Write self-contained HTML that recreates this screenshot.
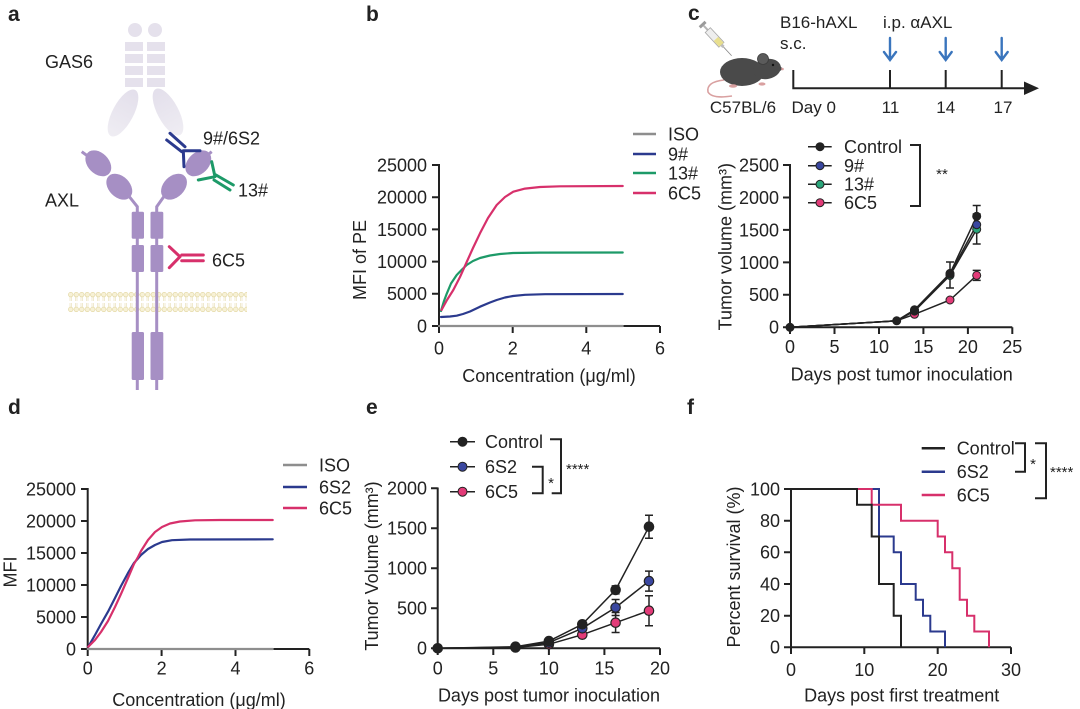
<!DOCTYPE html>
<html><head><meta charset="utf-8"><style>
html,body{margin:0;padding:0;background:#fff;}
svg{display:block;}
text{font-family:"Liberation Sans",Arial,sans-serif;fill:#222;}
.t{font-size:18px;}
.s{font-size:17px;}
.L{font-size:21px;font-weight:bold;}
</style></head><body>
<svg width="1080" height="709" viewBox="0 0 1080 709" xmlns="http://www.w3.org/2000/svg">
<defs>
<pattern id="mem" x="68" y="292" width="5.5" height="20" patternUnits="userSpaceOnUse">
<g fill="#f7f1d6" stroke="#e0d49c" stroke-width="0.6">
<circle cx="2.75" cy="2.6" r="2.3"/><circle cx="2.75" cy="17.4" r="2.3"/>
</g>
<g stroke="#e6dcaf" stroke-width="0.6" fill="none">
<path d="M2,5 V9 M3.5,5 V9 M2,11 V15 M3.5,11 V15"/>
</g>
</pattern>
<linearGradient id="gfade" x1="0" y1="0" x2="0" y2="1">
<stop offset="0" stop-color="#e3dfeb"/><stop offset="1" stop-color="#efedf3"/>
</linearGradient>
</defs>
<rect width="1080" height="709" fill="#fff"/>

<!-- Panel labels -->
<text class="L" x="8" y="21">a</text>
<text class="L" x="366" y="21">b</text>
<text class="L" x="688" y="20">c</text>
<text class="L" x="8" y="414">d</text>
<text class="L" x="366" y="414">e</text>
<text class="L" x="687" y="414">f</text>

<!-- ============ Panel a ============ -->
<g fill="#e5e1ec">
<circle cx="135" cy="30" r="7"/><circle cx="155" cy="30" r="7"/>
<rect x="125" y="42" width="18" height="9"/><rect x="147" y="42" width="18" height="9"/>
<rect x="125" y="54" width="18" height="9"/><rect x="147" y="54" width="18" height="9"/>
<rect x="125" y="66" width="18" height="9"/><rect x="147" y="66" width="18" height="9"/>
<rect x="125" y="78" width="18" height="9"/><rect x="147" y="78" width="18" height="9"/>
<ellipse cx="123" cy="113" rx="10.5" ry="26" transform="rotate(28 123 113)" fill="url(#gfade)"/>
<ellipse cx="168" cy="112" rx="10.5" ry="26" transform="rotate(-28 168 112)" fill="url(#gfade)"/>
</g>
<text class="t" x="45" y="68">GAS6</text>

<!-- membrane -->
<rect x="68" y="292" width="179" height="20" fill="url(#mem)"/>

<g fill="#a68fc4" stroke="#a68fc4">
<path d="M81.7,151.7 L89,157 M211.7,151.7 L205,157" stroke-width="3" fill="none"/>
<ellipse cx="98.3" cy="163.3" rx="15" ry="10.5" transform="rotate(45 98.3 163.3)" stroke="none"/>
<ellipse cx="119.3" cy="186.7" rx="15" ry="10.5" transform="rotate(45 119.3 186.7)" stroke="none"/>
<ellipse cx="198.3" cy="163.3" rx="15" ry="10.5" transform="rotate(-45 198.3 163.3)" stroke="none"/>
<ellipse cx="174" cy="186.7" rx="15" ry="10.5" transform="rotate(-45 174 186.7)" stroke="none"/>
<path d="M128,195 L137.3,206.7 V390 M165,195 L156.7,206.7 V390" stroke-width="3" fill="none"/>
<rect x="131.7" y="211.7" width="12.3" height="27" rx="1.5" stroke="none"/>
<rect x="150.5" y="211.7" width="12.8" height="27" rx="1.5" stroke="none"/>
<rect x="131.7" y="245" width="12.3" height="27" rx="1.5" stroke="none"/>
<rect x="150.5" y="245" width="12.8" height="27" rx="1.5" stroke="none"/>
<rect x="131.7" y="332" width="12.3" height="48" rx="1.5" stroke="none"/>
<rect x="150.5" y="332" width="12.8" height="48" rx="1.5" stroke="none"/>
</g>
<text class="t" x="45" y="206.5">AXL</text>

<!-- antibodies -->
<g fill="none" stroke-width="3" stroke-linecap="round">
<path d="M170,133.3 L185,146.7 M166.7,140 L181.7,151.7 M183.3,150.7 L200,150.7 M183.3,150.7 L184,166.7" stroke="#2b3a8e"/>
<path d="M215,176.7 L211.7,161.7 M215,176.7 L198.3,180 M216,175 L233.3,185 M214,180 L230,190" stroke="#1d9a68"/>
<path d="M180,256.7 L169.3,246.7 M180,256.7 L169.3,267.7 M181.7,255 H203.3 M181.7,260.7 H203.3" stroke="#d7306b"/>
</g>
<text class="t" x="203" y="144.5">9#/6S2</text>
<text class="t" x="238" y="196.5">13#</text>
<text class="t" x="212" y="266.5">6C5</text>

<!-- ============ Panel b ============ -->
<g stroke="#222" stroke-width="2" fill="none">
<path d="M439,164 V326 H660"/>
<path d="M432,165H439 M432,197.2H439 M432,229.4H439 M432,261.6H439 M432,293.8H439 M432,326H439"/>
<path d="M439,326V333 M512.7,326V333 M586.3,326V333 M660,326V333"/>
</g>
<g class="t" text-anchor="end">
<text x="427" y="171.4">25000</text><text x="427" y="203.6">20000</text><text x="427" y="235.8">15000</text>
<text x="427" y="268">10000</text><text x="427" y="300.2">5000</text><text x="427" y="332.4">0</text>
</g>
<g class="t" text-anchor="middle">
<text x="439" y="354.5">0</text><text x="512.7" y="354.5">2</text><text x="586.3" y="354.5">4</text><text x="660" y="354.5">6</text>
<text x="549" y="382">Concentration (μg/ml)</text>
</g>
<text class="t" text-anchor="middle" transform="translate(366,260) rotate(-90)">MFI of PE</text>
<g fill="none" stroke-width="2.2" stroke-linejoin="round" stroke-linecap="round">
<path d="M439,326 H622.7" stroke="#8e8e8e"/>
<polyline stroke="#2b3a8e" points="441,317 450,316.5 456.7,315.7 463,314 470,311.5 480,306.7 490,302.5 496.7,300 505,297.5 513,296 525,294.8 545,294.2 622.7,294"/>
<polyline stroke="#1d9a68" points="441,311 444,301 446.7,293.8 451,283.5 456.7,275 462,269.5 466.7,265 473,261 480,258 490,255.5 500,254 513,253 540,252.6 622.7,252.5"/>
<polyline stroke="#d7306b" points="441.5,310 447,300 453.3,290 460,277 466.7,262 473,248 480,233.3 488,218 496.7,205 505,197 513.3,191.7 525,188.6 540,187 560,186.3 622.7,186"/>
</g>
<g stroke-width="2.5">
<path d="M633,134H656" stroke="#8e8e8e"/><path d="M633,154H656" stroke="#2b3a8e"/>
<path d="M633,173H656" stroke="#1d9a68"/><path d="M633,193H656" stroke="#d7306b"/>
</g>
<g class="t">
<text x="668" y="140.4">ISO</text><text x="668" y="160.4">9#</text><text x="668" y="179.4">13#</text><text x="668" y="199.4">6C5</text>
</g>

<!-- ============ Panel c (timeline) ============ -->
<g transform="translate(703,25) rotate(47)">
<rect x="-2" y="-4" width="3" height="8" fill="#9a9a9a"/>
<rect x="1" y="-1" width="6" height="2" fill="#b5b5b5"/>
<rect x="7" y="-3.5" width="20" height="7" fill="#eeeeee" stroke="#a8a8a8" stroke-width="0.8"/>
<rect x="19" y="-3" width="8" height="6" fill="#e8df8e"/>
<rect x="27" y="-1.5" width="3" height="3" fill="#bdbdbd"/>
<path d="M30,0 H42" stroke="#8a8a8a" stroke-width="0.8"/>
</g>
<path d="M724,80 Q706,82 708,92 Q712,99 732,96" fill="none" stroke="#d9a0a0" stroke-width="1.6"/>
<ellipse cx="742" cy="72" rx="22" ry="14" fill="#4a4a4a"/>
<ellipse cx="767" cy="69" rx="14" ry="10" transform="rotate(-12 767 69)" fill="#4a4a4a"/>
<path d="M778,64 L783,69 L777,73 Z" fill="#4a4a4a"/>
<circle cx="763" cy="59" r="5.5" fill="#5b5b5b" stroke="#3c3c3c" stroke-width="0.8"/>
<circle cx="773" cy="65" r="1.2" fill="#111"/>
<circle cx="782.5" cy="69" r="1.3" fill="#d9a0a0"/>
<ellipse cx="733" cy="86" rx="4" ry="1.8" fill="#d9a0a0"/>
<ellipse cx="762" cy="84" rx="3.5" ry="1.6" fill="#d9a0a0"/>
<text class="s" x="743" y="113" text-anchor="middle">C57BL/6</text>

<g stroke="#222" stroke-width="2" fill="none">
<path d="M793.3,70 V88.3 H1027 M890,70 V88.3 M945.7,70 V88.3 M1001.7,70 V88.3"/>
</g>
<polygon points="1024,81.5 1039,88.3 1024,95" fill="#222"/>
<g stroke="#3a75bd" stroke-width="2.4" fill="none" stroke-linecap="round">
<path d="M890,38 V60 M884,52 L890,60 L896,52"/>
<path d="M945.7,38 V60 M939.7,52 L945.7,60 L951.7,52"/>
<path d="M1001.7,38 V60 M995.7,52 L1001.7,60 L1007.7,52"/>
</g>
<text class="s" x="780" y="28">B16-hAXL</text>
<text class="s" x="780" y="49">s.c.</text>
<text class="s" x="883" y="28">i.p. αAXL</text>
<text class="s" x="791.5" y="113">Day 0</text>
<text class="s" x="890.5" y="113" text-anchor="middle">11</text>
<text class="s" x="945.7" y="113" text-anchor="middle">14</text>
<text class="s" x="1003" y="113" text-anchor="middle">17</text>

<!-- ============ Panel c chart ============ -->
<g stroke="#222" stroke-width="2" fill="none">
<path d="M790,164 V327.3 H1012.3"/>
<path d="M783,165H790 M783,197.5H790 M783,229.9H790 M783,262.4H790 M783,294.8H790 M783,327.3H790"/>
<path d="M790,327.3V334 M834.5,327.3V334 M879,327.3V334 M923.4,327.3V334 M967.9,327.3V334 M1012.3,327.3V334"/>
</g>
<g class="t" text-anchor="end">
<text x="779" y="171.4">2500</text><text x="779" y="203.9">2000</text><text x="779" y="236.3">1500</text>
<text x="779" y="268.8">1000</text><text x="779" y="301.2">500</text><text x="779" y="333.7">0</text>
</g>
<g class="t" text-anchor="middle">
<text x="790" y="353">0</text><text x="834.5" y="353">5</text><text x="879" y="353">10</text>
<text x="923.4" y="353">15</text><text x="967.9" y="353">20</text><text x="1012.3" y="353">25</text>
<text x="901.7" y="380.5">Days post tumor inoculation</text>
</g>
<text class="t" text-anchor="middle" transform="translate(731.5,246.7) rotate(-90)">Tumor volume (mm³)</text>
<g fill="none" stroke="#222" stroke-width="1.5">
<polyline points="790,327.3 896.7,320.8 914.5,314.3 950,300 976.7,275.4"/>
<polyline points="790,327.3 896.7,320.8 914.5,311.1 950,275.4 976.7,229.3"/>
<polyline points="790,327.3 896.7,320.8 914.5,310.4 950,274.1 976.7,224.7"/>
<polyline points="790,327.3 896.7,320.8 914.5,309.8 950,273.4 976.7,216.3"/>
<path d="M976.7,270.4V280.4 M972.7,270.4H980.7 M972.7,280.4H980.7"/>
<path d="M976.7,214V244 M972.7,214H980.7 M972.7,244H980.7"/>
<path d="M950,262V288 M946,262H954 M946,288H954"/>
<path d="M976.7,205.5V227 M972.7,205.5H980.7"/>
</g>
<g stroke="#222" stroke-width="1">
<circle cx="790" cy="327.3" r="4" fill="#222"/>
<circle cx="896.7" cy="320.8" r="4" fill="#222"/>
<circle cx="914.5" cy="314.3" r="4" fill="#e23b78"/>
<circle cx="950" cy="300" r="4" fill="#e23b78"/>
<circle cx="976.7" cy="275.4" r="4" fill="#e23b78"/>
<circle cx="914.5" cy="311.1" r="4" fill="#2aa57a"/>
<circle cx="950" cy="275.4" r="4" fill="#2aa57a"/>
<circle cx="976.7" cy="229.3" r="4" fill="#2aa57a"/>
<circle cx="914.5" cy="310.4" r="4" fill="#3a47a0"/>
<circle cx="950" cy="274.1" r="4" fill="#3a47a0"/>
<circle cx="976.7" cy="224.7" r="4" fill="#3a47a0"/>
<circle cx="914.5" cy="309.8" r="4" fill="#222"/>
<circle cx="950" cy="273.4" r="4" fill="#222"/>
<circle cx="976.7" cy="216.3" r="4" fill="#222"/>
</g>
<g stroke="#222" stroke-width="1.5">
<path d="M808,146.7H831.7 M808,165.7H831.7 M808,184.3H831.7 M808,202.7H831.7"/>
<circle cx="820" cy="146.7" r="4" fill="#222" stroke-width="1"/>
<circle cx="820" cy="165.7" r="4" fill="#3a47a0" stroke-width="1"/>
<circle cx="820" cy="184.3" r="4" fill="#2aa57a" stroke-width="1"/>
<circle cx="820" cy="202.7" r="4" fill="#e23b78" stroke-width="1"/>
</g>
<g class="t">
<text x="844" y="153.1">Control</text><text x="844" y="172.1">9#</text><text x="844" y="190.7">13#</text><text x="844" y="209.1">6C5</text>
</g>
<path d="M910,145 H920 V206 H910" fill="none" stroke="#222" stroke-width="2"/>
<text x="942" y="179" font-size="15" text-anchor="middle">**</text>

<!-- ============ Panel d ============ -->
<g stroke="#222" stroke-width="2" fill="none">
<path d="M87.7,488 V649 H309.3"/>
<path d="M81,489H87.7 M81,521H87.7 M81,553H87.7 M81,585H87.7 M81,617H87.7 M81,649H87.7"/>
<path d="M87.7,649V656 M161.6,649V656 M235.5,649V656 M309.3,649V656"/>
</g>
<g class="t" text-anchor="end">
<text x="76" y="495.4">25000</text><text x="76" y="527.4">20000</text><text x="76" y="559.4">15000</text>
<text x="76" y="591.4">10000</text><text x="76" y="623.4">5000</text><text x="76" y="655.4">0</text>
</g>
<g class="t" text-anchor="middle">
<text x="87.7" y="674.5">0</text><text x="161.6" y="674.5">2</text><text x="235.5" y="674.5">4</text><text x="309.3" y="674.5">6</text>
<text x="199" y="706">Concentration (μg/ml)</text>
</g>
<text class="t" text-anchor="middle" transform="translate(16.5,572) rotate(-90)">MFI</text>
<g fill="none" stroke-width="2.2" stroke-linejoin="round" stroke-linecap="round">
<path d="M87.7,649 H272.7" stroke="#8e8e8e"/>
<polyline stroke="#2b3a8e" points="88.3,646.7 95,635 101,624 108,611.7 115,598 121,586 128,573 134,563 141,555 148,549 155,545 162,542 172,540.2 190,539.5 272.7,539.3"/>
<polyline stroke="#d7306b" points="88.3,646.7 95,640 101,632 108,621 115,607 121,594 128,578 134,564 138,557 141,551 148,540 155,532 162,527 170,523.5 180,521.5 195,520.3 220,520 272.7,520"/>
</g>
<g stroke-width="2.5">
<path d="M283,465H307" stroke="#8e8e8e"/><path d="M283,487H307" stroke="#2b3a8e"/><path d="M283,508H307" stroke="#d7306b"/>
</g>
<g class="t">
<text x="319" y="471.4">ISO</text><text x="319" y="493.4">6S2</text><text x="319" y="514.4">6C5</text>
</g>

<!-- ============ Panel e ============ -->
<g stroke="#222" stroke-width="2" fill="none">
<path d="M437.7,487.5 V648.3 H660"/>
<path d="M431,488.3H437.7 M431,528.3H437.7 M431,568.3H437.7 M431,608.3H437.7 M431,648.3H437.7"/>
<path d="M437.7,648.3V655 M493.3,648.3V655 M548.9,648.3V655 M604.4,648.3V655 M660,648.3V655"/>
</g>
<g class="t" text-anchor="end">
<text x="427" y="494.7">2000</text><text x="427" y="534.7">1500</text><text x="427" y="574.7">1000</text>
<text x="427" y="614.7">500</text><text x="427" y="654.7">0</text>
</g>
<g class="t" text-anchor="middle">
<text x="437.7" y="674.5">0</text><text x="493.3" y="674.5">5</text><text x="548.9" y="674.5">10</text>
<text x="604.4" y="674.5">15</text><text x="660" y="674.5">20</text>
<text x="549" y="701.5">Days post tumor inoculation</text>
</g>
<text class="t" text-anchor="middle" transform="translate(378,566) rotate(-90)">Tumor Volume (mm³)</text>
<g fill="none" stroke="#222" stroke-width="1.5">
<polyline points="437.7,648.3 515.5,647.5 548.9,644.3 582.3,634.7 615.6,622.7 649,610.7"/>
<polyline points="437.7,648.3 515.5,647.1 548.9,642.7 582.3,628.3 615.6,607.5 649,581.1"/>
<polyline points="437.7,648.3 515.5,646.7 548.9,641.1 582.3,624.3 615.6,589.9 649,526.7"/>
<path d="M649,595.7V625.7 M645,595.7H653 M645,625.7H653"/>
<path d="M615.6,612.5V632.5 M611.6,612.5H619.6 M611.6,632.5H619.6"/>
<path d="M649,571.1V591.1 M645,571.1H653 M645,591.1H653"/>
<path d="M615.6,599.5V615.5 M611.6,599.5H619.6 M611.6,615.5H619.6"/>
<path d="M649,515.2V538.2 M645,515.2H653 M645,538.2H653"/>
<path d="M615.6,585.9V593.9 M611.6,585.9H619.6 M611.6,593.9H619.6"/>
</g>
<g stroke="#222" stroke-width="1.2">
<circle cx="437.7" cy="648.3" r="4.7" fill="#222"/>
<circle cx="515.5" cy="647.5" r="4.7" fill="#e23b78"/>
<circle cx="548.9" cy="644.3" r="4.7" fill="#e23b78"/>
<circle cx="582.3" cy="634.7" r="4.7" fill="#e23b78"/>
<circle cx="615.6" cy="622.7" r="4.7" fill="#e23b78"/>
<circle cx="649" cy="610.7" r="4.7" fill="#e23b78"/>
<circle cx="515.5" cy="647.1" r="4.7" fill="#3a47a0"/>
<circle cx="548.9" cy="642.7" r="4.7" fill="#3a47a0"/>
<circle cx="582.3" cy="628.3" r="4.7" fill="#3a47a0"/>
<circle cx="615.6" cy="607.5" r="4.7" fill="#3a47a0"/>
<circle cx="649" cy="581.1" r="4.7" fill="#3a47a0"/>
<circle cx="515.5" cy="646.7" r="4.7" fill="#222"/>
<circle cx="548.9" cy="641.1" r="4.7" fill="#222"/>
<circle cx="582.3" cy="624.3" r="4.7" fill="#222"/>
<circle cx="615.6" cy="589.9" r="4.7" fill="#222"/>
<circle cx="649" cy="526.7" r="4.7" fill="#222"/>
</g>
<g stroke="#222" stroke-width="1.5">
<path d="M450,441.7H475 M450,466.7H475 M450,491.7H475"/>
<circle cx="462.5" cy="441.7" r="4.5" fill="#222" stroke-width="1"/>
<circle cx="462.5" cy="466.7" r="4.5" fill="#3a47a0" stroke-width="1"/>
<circle cx="462.5" cy="491.7" r="4.5" fill="#e23b78" stroke-width="1"/>
</g>
<g class="t">
<text x="485" y="448.1">Control</text><text x="485" y="473.1">6S2</text><text x="485" y="498.1">6C5</text>
</g>
<g fill="none" stroke="#222" stroke-width="2">
<path d="M532,466.7 H542.7 V493.3 H532"/>
<path d="M550,439.3 H561 V493.3 H551.7"/>
</g>
<text x="551" y="488" font-size="15" text-anchor="middle">*</text>
<text x="566" y="474" font-size="15">****</text>

<!-- ============ Panel f ============ -->
<g stroke="#222" stroke-width="2" fill="none">
<path d="M791,488 V647.3 H1011"/>
<path d="M784,489H791 M784,520.7H791 M784,552.3H791 M784,584H791 M784,615.7H791 M784,647.3H791"/>
<path d="M791,647.3V654 M864.3,647.3V654 M937.7,647.3V654 M1011,647.3V654"/>
</g>
<g class="t" text-anchor="end">
<text x="780" y="495.4">100</text><text x="780" y="527.1">80</text><text x="780" y="558.7">60</text>
<text x="780" y="590.4">40</text><text x="780" y="622.1">20</text><text x="780" y="653.7">0</text>
</g>
<g class="t" text-anchor="middle">
<text x="791" y="676">0</text><text x="864.3" y="676">10</text><text x="937.7" y="676">20</text><text x="1011" y="676">30</text>
<text x="901.7" y="701.5">Days post first treatment</text>
</g>
<text class="t" text-anchor="middle" transform="translate(740,567) rotate(-90)">Percent survival (%)</text>
<g fill="none" stroke-width="2" stroke-linejoin="miter">
<path stroke="#2b3a8e" d="M791,489 H879 V536.5 H893.7 V552.3 H901 V584 H915.7 V599.8 H923 V615.7 H930.3 V631.5 H945 V647.3"/>
<path stroke="#d7306b" d="M791,489 H871.7 V504.8 H901 V520.7 H937.7 V536.5 H945 V552.3 H952.3 V568.2 H959.7 V599.8 H967 V615.7 H974.3 V631.5 H989 V647.3"/>
<path stroke="#222" d="M791,489 H857 V504.8 H871.7 V536.5 H879 V584 H893.7 V615.7 H901 V647.3"/>
</g>
<g stroke-width="2.5">
<path d="M921.7,448.3H945" stroke="#222"/><path d="M921.7,471.7H945" stroke="#2b3a8e"/><path d="M921.7,495H945" stroke="#d7306b"/>
</g>
<g class="t">
<text x="956.7" y="454.7">Control</text><text x="956.7" y="478.1">6S2</text><text x="956.7" y="501.4">6C5</text>
</g>
<g fill="none" stroke="#222" stroke-width="2">
<path d="M1015,443.3 H1025 V471.7 H1015"/>
<path d="M1035,443.3 H1046 V498.3 H1035"/>
</g>
<text x="1033" y="469" font-size="15" text-anchor="middle">*</text>
<text x="1050" y="477" font-size="15">****</text>
</svg>
</body></html>
